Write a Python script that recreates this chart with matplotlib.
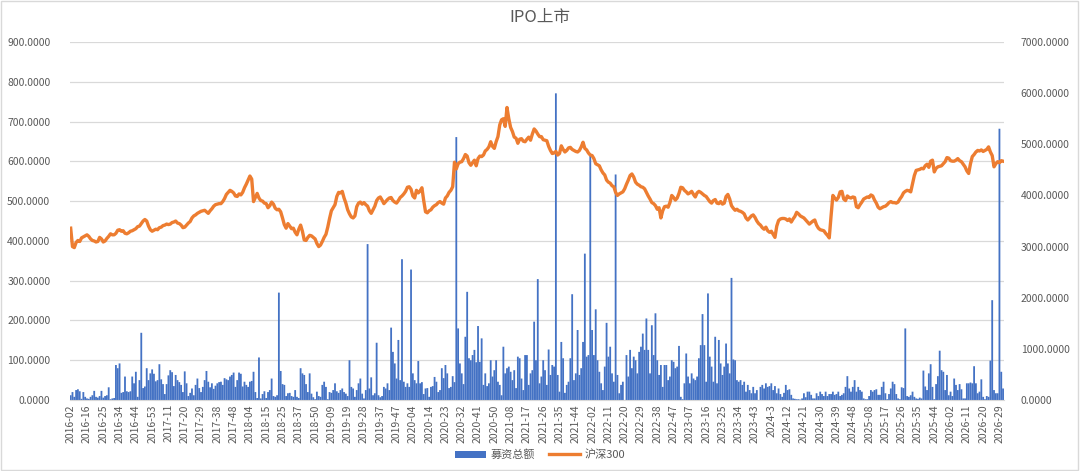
import matplotlib
matplotlib.use("Agg")
import matplotlib.pyplot as plt
from matplotlib.ticker import FormatStrFormatter, FixedLocator
from matplotlib.lines import Line2D
from matplotlib.patches import Patch, Rectangle

plt.rcParams['font.family'] = ['Noto Sans CJK SC', 'DejaVu Sans']

# x-axis labels (one every 9 weekly categories)
week_labels = ["2016-02", "2016-16", "2016-25", "2016-34", "2016-44", "2016-53",
               "2017-11", "2017-20", "2017-29", "2017-38", "2017-48", "2018-04",
               "2018-15", "2018-25", "2018-37", "2018-50", "2019-09", "2019-19",
               "2019-28", "2019-37", "2019-47", "2020-04", "2020-14", "2020-23",
               "2020-32", "2020-41", "2020-50", "2021-08", "2021-17", "2021-26",
               "2021-35", "2021-44", "2022-02", "2022-11", "2022-20", "2022-29",
               "2022-38", "2022-47", "2023-07", "2023-16", "2023-25", "2023-34",
               "2023-43", "2024-3", "2024-12", "2024-21", "2024-30", "2024-39",
               "2024-48", "2025-08", "2025-17", "2025-26", "2025-35", "2025-44",
               "2026-02", "2026-11", "2026-20", "2026-29"]
label_step = 9

# 募资总额 (left axis)
ipo_amount = [
    12, 20, 8, 25, 27, 22, 3, 20, 8, 4,
    3, 8, 12, 23, 8, 6, 10, 23, 6, 10,
    12, 32, 2, 4, 5, 88, 80, 92, 18, 20,
    59, 22, 20, 22, 59, 42, 71, 8, 50, 169,
    30, 34, 80, 50, 67, 77, 66, 47, 50, 90,
    52, 40, 15, 40, 62, 75, 70, 35, 63, 50,
    45, 38, 20, 72, 42, 10, 18, 29, 12, 38,
    54, 30, 20, 33, 50, 73, 46, 32, 42, 28,
    36, 42, 45, 46, 38, 55, 52, 50, 59, 63,
    69, 33, 50, 69, 66, 34, 46, 38, 33, 46,
    48, 71, 20, 5, 107, 4, 15, 22, 5, 20,
    25, 54, 10, 8, 12, 270, 73, 40, 38, 10,
    17, 18, 10, 8, 25, 8, 5, 80, 67, 63,
    40, 20, 67, 16, 7, 2, 21, 10, 8, 38,
    46, 33, 2, 20, 18, 25, 42, 22, 18, 25,
    29, 20, 16, 10, 100, 33, 29, 8, 25, 42,
    54, 16, 4, 25, 392, 29, 57, 12, 17, 144,
    12, 7, 10, 33, 29, 42, 25, 182, 121, 92,
    54, 151, 50, 354, 46, 33, 42, 33, 328, 67,
    50, 42, 98, 42, 45, 15, 29, 30, 8, 33,
    35, 58, 46, 20, 25, 80, 55, 88, 67, 30,
    33, 60, 45, 661, 180, 92, 67, 40, 159, 272,
    105, 100, 113, 126, 95, 186, 96, 155, 38, 67,
    35, 42, 100, 59, 75, 100, 46, 38, 12, 134,
    67, 80, 84, 71, 50, 75, 30, 109, 105, 54,
    25, 113, 113, 38, 67, 75, 197, 100, 304, 42,
    59, 100, 75, 38, 127, 63, 88, 84, 771, 63,
    21, 146, 105, 18, 38, 46, 105, 266, 50, 67,
    176, 63, 80, 146, 368, 109, 113, 619, 176, 113,
    228, 100, 71, 42, 25, 84, 194, 109, 134, 67,
    46, 567, 63, 17, 38, 46, 0, 113, 59, 126,
    80, 109, 100, 67, 121, 134, 167, 126, 205, 126,
    67, 188, 113, 218, 100, 63, 88, 33, 88, 88,
    50, 59, 100, 96, 80, 84, 136, 8, 2, 42,
    117, 59, 42, 67, 54, 50, 59, 105, 138, 216,
    138, 46, 268, 109, 84, 46, 159, 42, 151, 92,
    63, 84, 142, 92, 67, 307, 102, 100, 50, 46,
    50, 38, 46, 21, 38, 25, 17, 33, 17, 25,
    0, 33, 38, 29, 42, 33, 35, 42, 25, 35,
    17, 29, 15, 8, 18, 38, 25, 27, 13, 4,
    3, 2, 2, 1, 4, 17, 7, 21, 21, 13,
    4, 4, 17, 10, 21, 15, 10, 21, 10, 15,
    15, 21, 13, 15, 21, 10, 13, 17, 33, 60,
    29, 21, 33, 50, 21, 33, 25, 21, 4, 2,
    2, 10, 25, 21, 25, 27, 13, 13, 33, 46,
    17, 2, 15, 29, 46, 40, 15, 4, 2, 32,
    30, 180, 10, 8, 12, 21, 8, 4, 3, 6,
    4, 74, 34, 25, 67, 90, 33, 2, 40, 60,
    124, 75, 71, 25, 63, 12, 21, 10, 54, 38,
    25, 40, 27, 4, 4, 42, 42, 44, 42, 85,
    42, 17, 21, 52, 8, 2, 10, 8, 99, 251,
    25, 17, 17, 682, 71, 29,
]

# 沪深300 (right axis)
csi300 = [
    3360, 3000, 2980, 3080, 3120, 3100, 3170, 3190, 3210, 3230,
    3200, 3150, 3120, 3110, 3090, 3100, 3180, 3150, 3090, 3110,
    3160, 3200, 3250, 3230, 3230, 3260, 3320, 3330, 3300, 3310,
    3260, 3250, 3270, 3300, 3310, 3330, 3350, 3390, 3400, 3450,
    3500, 3530, 3500, 3400, 3330, 3300, 3320, 3340, 3330, 3370,
    3380, 3410, 3420, 3440, 3430, 3440, 3470, 3480, 3500, 3460,
    3450, 3420, 3370, 3380, 3420, 3460, 3490, 3560, 3600, 3620,
    3650, 3670, 3690, 3700, 3710, 3680, 3650, 3700, 3740, 3790,
    3820, 3830, 3840, 3840, 3880, 3940, 4020, 4060, 4100, 4080,
    4050, 3990, 3980, 4030, 4010, 4060, 4150, 4220, 4300, 4380,
    4320, 3880, 3960, 4040, 3950, 3900, 3890, 3850, 3840, 3760,
    3800, 3870, 3830, 3750, 3720, 3730, 3680, 3560, 3430, 3360,
    3450, 3400, 3350, 3360, 3280, 3230, 3340, 3420, 3300, 3130,
    3120, 3180, 3220, 3210, 3180, 3150, 3060, 3000, 3030, 3100,
    3180, 3240, 3380, 3550, 3700, 3760, 3820, 3980, 4060, 4050,
    4080, 3950, 3850, 3720, 3640, 3580, 3560, 3600, 3780, 3850,
    3870, 3830, 3860, 3820, 3790, 3700, 3650, 3720, 3790, 3900,
    3950, 3970, 3910, 3840, 3880, 3920, 3950, 3960, 3900, 3870,
    3850, 3900, 3960, 3990, 4030, 4080, 4160, 4170, 4120, 3990,
    3950, 4100, 4050, 4090, 4150, 3900, 3680, 3660, 3700, 3720,
    3770, 3800, 3820, 3860, 3880, 3850, 3830, 3950, 3990, 4060,
    4100, 4170, 4650, 4520, 4620, 4650, 4660, 4720, 4800, 4770,
    4640, 4590, 4640, 4690, 4580, 4720, 4770, 4760, 4790, 4870,
    4900, 4950, 5050, 4960, 4920, 5050, 5150, 5380, 5480, 5500,
    5350, 5720, 5500, 5330, 5250, 5140, 5120, 5020, 5100, 5110,
    5060, 5050, 5100, 5140, 5080, 5200, 5300, 5260, 5200, 5150,
    5150, 5090, 5080, 5070, 4960, 4880, 4820, 4830, 4860, 4790,
    4820, 4970, 4900, 4850, 4880, 4930, 4940, 4900, 4880, 4860,
    4850, 4880, 4950, 5040, 4920, 4890, 4830, 4790, 4780, 4720,
    4620, 4600, 4580, 4500, 4440, 4400, 4300, 4260, 4240, 4190,
    4170, 4060, 4000, 4030, 4050, 4070, 4130, 4220, 4300, 4390,
    4420, 4360, 4260, 4220, 4200, 4170, 4160, 4130, 4060, 3990,
    3930, 3860, 3840, 3800, 3730, 3760, 3560, 3700, 3780, 3790,
    3770, 3860, 4000, 3960, 3910, 3950, 4040, 4160, 4150, 4100,
    4070, 4030, 4050, 4080, 4020, 3970, 4050, 4080, 4060, 4030,
    4000, 3980, 3930, 3880, 3850, 3900, 3920, 3850, 3840, 3880,
    3830, 3850, 3980, 4020, 3930, 3800, 3750, 3710, 3730, 3700,
    3690, 3670, 3640, 3560, 3520, 3560, 3600, 3620, 3570, 3500,
    3450, 3420, 3370, 3340, 3380, 3310, 3280, 3300, 3240, 3180,
    3400, 3510, 3540, 3550, 3550, 3540, 3510, 3540, 3480, 3540,
    3590, 3670, 3640, 3600, 3580, 3560, 3520, 3480, 3440, 3470,
    3500, 3520, 3420, 3360, 3330, 3320, 3310, 3260, 3220, 3170,
    3600, 4000, 3950, 3910, 3960, 4070, 4080, 3930, 3900, 3990,
    3960, 3950, 3970, 3960, 3780, 3760, 3820, 3870, 3930, 3950,
    3970, 3960, 4010, 3990, 3910, 3850, 3770, 3740, 3760, 3780,
    3790, 3820, 3860, 3880, 3860, 3860, 3850, 3870, 3930, 3980,
    4050, 4080, 4100, 4090, 4070, 4230, 4390, 4490, 4500, 4510,
    4530, 4520, 4580, 4610, 4550, 4670, 4690, 4460, 4530, 4560,
    4570, 4580, 4620, 4660, 4740, 4730, 4680, 4670, 4670, 4690,
    4720, 4680, 4660, 4610, 4560, 4480, 4430, 4620, 4760, 4800,
    4850, 4880, 4870, 4890, 4860, 4880, 4900, 4950, 4850, 4780,
    4560, 4620, 4660, 4640, 4680, 4670,
]

text_color = '#595959'
x = list(range(len(ipo_amount)))

fig = plt.figure(figsize=(10.8, 4.71), dpi=100)
ax = fig.add_axes([0.0646, 0.1507, 0.8650, 0.7601])
ax2 = ax.twinx()

bars = ax.bar(x, ipo_amount, width=1.0, color='#4472C4', linewidth=0)
for b in bars:
    b.set_snap(False)
ax2.plot(x, csi300, color='#ED7D31', linewidth=2.4, solid_joinstyle='round')

ax.set_xlim(-0.5, len(x) - 0.5)
ax.set_ylim(0, 900)
ax2.set_ylim(0, 7000)
ax.set_yticks(range(0, 901, 100))
ax2.set_yticks(range(0, 7001, 1000))
ax.yaxis.set_major_formatter(FormatStrFormatter('%.4f'))
ax2.yaxis.set_major_formatter(FormatStrFormatter('%.4f'))

ax.xaxis.set_major_locator(FixedLocator(range(0, len(x), label_step)))
ax.set_xticklabels(week_labels, rotation=90)

ax.grid(axis='y', color='#d9d9d9', linewidth=0.9)
ax.set_axisbelow(True)
for a in (ax, ax2):
    for side in ('top', 'left', 'right', 'bottom'):
        a.spines[side].set_visible(False)
ax.spines['bottom'].set_visible(True)
ax.spines['bottom'].set_color('#d9d9d9')

ax.tick_params(axis='y', length=0, pad=14, labelsize=7.5, labelcolor=text_color)
ax2.tick_params(axis='y', length=0, pad=12, labelsize=7.5, labelcolor=text_color)
ax.tick_params(axis='x', length=0, pad=3, labelsize=7.5, labelcolor=text_color)

fig.text(0.5, 0.962, "IPO上市", ha='center', va='center', fontsize=12,
         color=text_color)

handles = [Patch(facecolor='#4472C4', edgecolor='none'),
           Line2D([0], [0], color='#ED7D31', linewidth=2.4)]
fig.legend(handles, ["募资总额", "沪深300"], loc='center',
           bbox_to_anchor=(0.5, 0.034), ncol=2, frameon=False,
           fontsize=8, labelcolor=text_color, handlelength=2.8,
           columnspacing=1.2, handletextpad=0.4)

fig.patches.append(Rectangle((0.001, 0.002), 0.997, 0.996, transform=fig.transFigure,
                             fill=False, edgecolor='#d9d9d9', linewidth=1))

fig.savefig("out.png", dpi=100)
